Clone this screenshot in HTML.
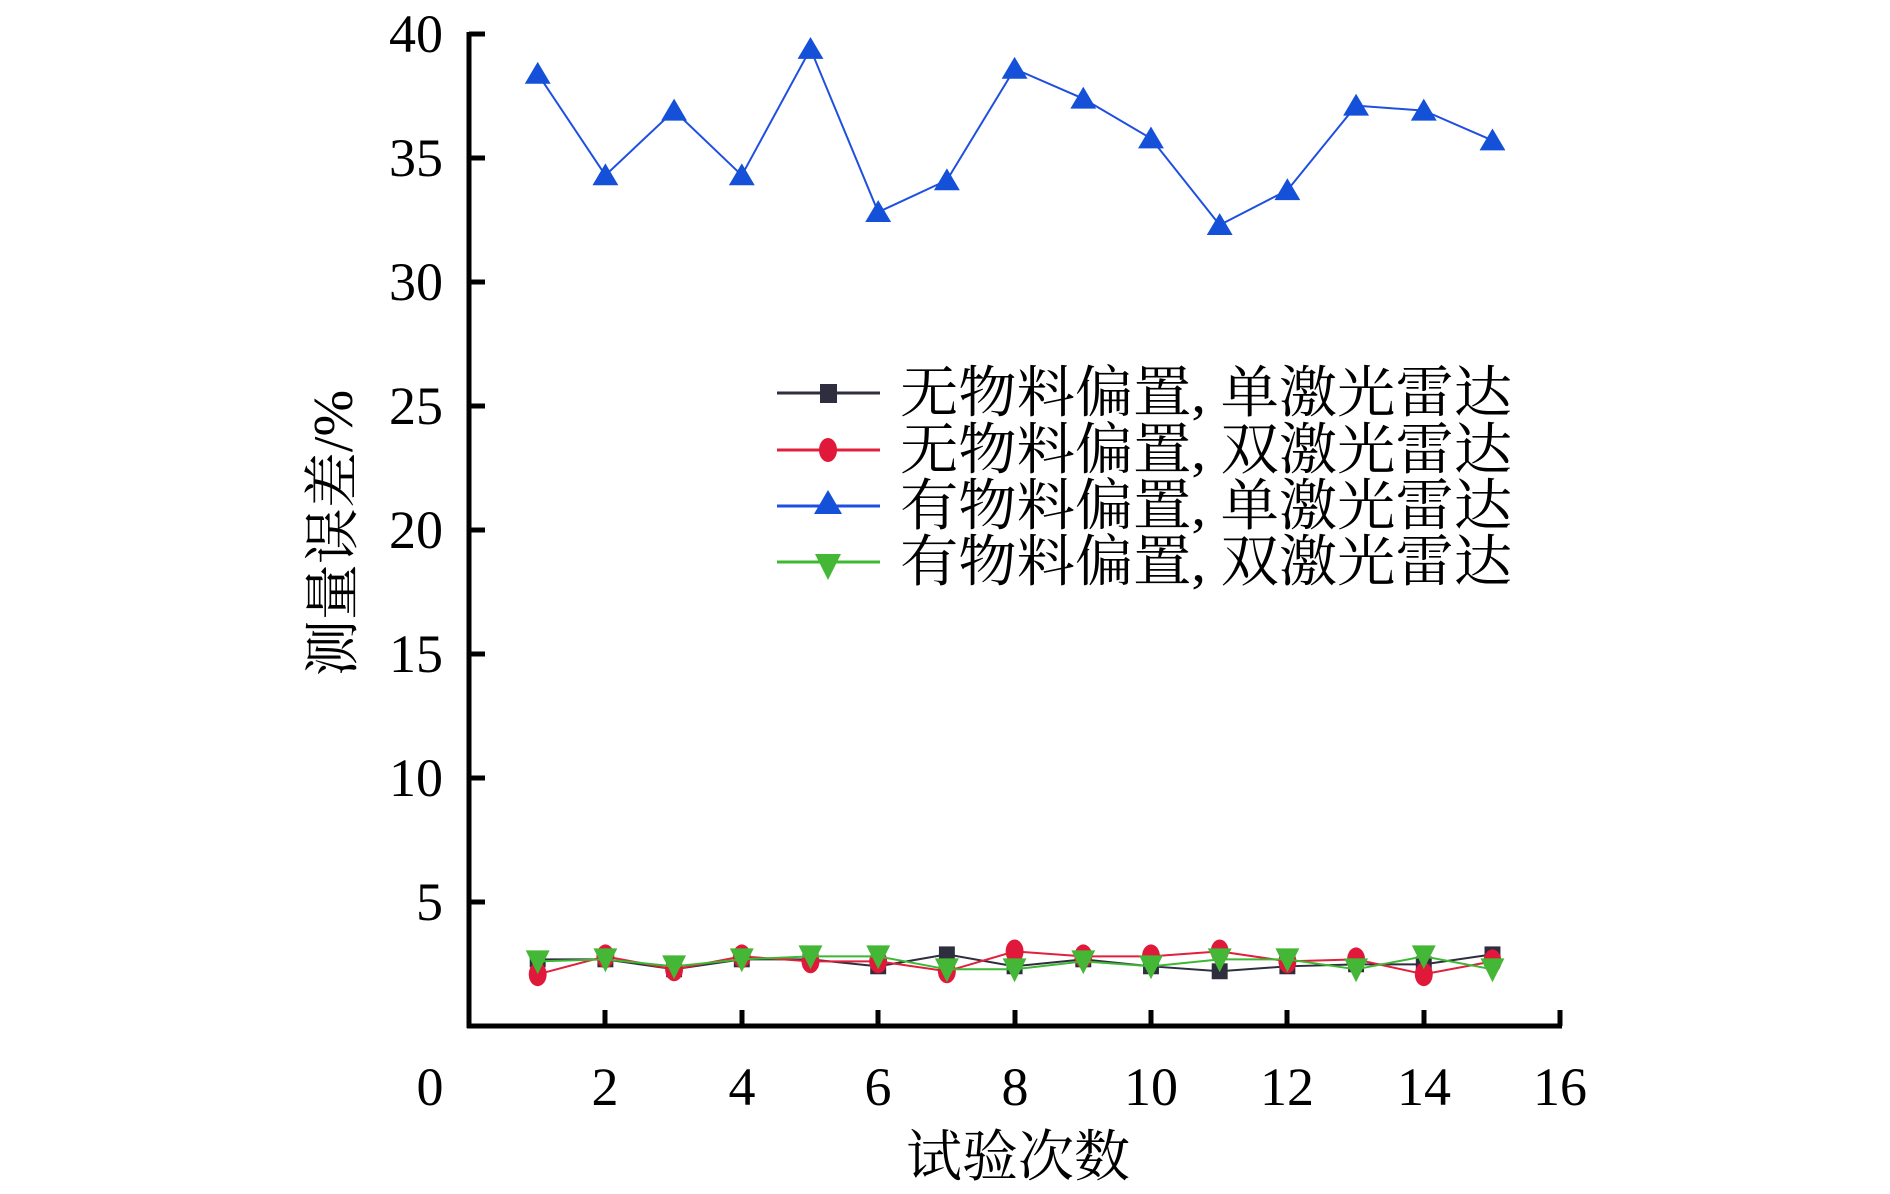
<!DOCTYPE html>
<html><head><meta charset="utf-8"><style>html,body{margin:0;padding:0;background:#fff}svg{display:block}</style></head>
<body>
<svg width="1890" height="1194" viewBox="0 0 1890 1194" xmlns="http://www.w3.org/2000/svg" font-family="'Liberation Serif','Noto Serif CJK SC',serif">
<g stroke="#000" stroke-width="5" fill="none">
<line x1="469" y1="32" x2="469" y2="1028"/>
<line x1="467" y1="1026" x2="1562" y2="1026"/>
</g>
<g stroke="#000" stroke-width="5">
<line x1="469" y1="34" x2="485" y2="34"/><line x1="469" y1="158" x2="485" y2="158"/><line x1="469" y1="282" x2="485" y2="282"/><line x1="469" y1="406" x2="485" y2="406"/><line x1="469" y1="530" x2="485" y2="530"/><line x1="469" y1="654" x2="485" y2="654"/><line x1="469" y1="778" x2="485" y2="778"/><line x1="469" y1="902" x2="485" y2="902"/>
<line x1="605" y1="1026" x2="605" y2="1010"/><line x1="742" y1="1026" x2="742" y2="1010"/><line x1="878" y1="1026" x2="878" y2="1010"/><line x1="1015" y1="1026" x2="1015" y2="1010"/><line x1="1151" y1="1026" x2="1151" y2="1010"/><line x1="1287" y1="1026" x2="1287" y2="1010"/><line x1="1424" y1="1026" x2="1424" y2="1010"/><line x1="1560" y1="1026" x2="1560" y2="1010"/>
</g>
<g font-size="54" text-anchor="end" fill="#000">
<text x="443" y="52">40</text><text x="443" y="176">35</text><text x="443" y="300">30</text><text x="443" y="424">25</text><text x="443" y="548">20</text><text x="443" y="672">15</text><text x="443" y="796">10</text><text x="443" y="920">5</text>
</g>
<g font-size="54" text-anchor="middle" fill="#000">
<text x="430" y="1105">0</text><text x="605" y="1105">2</text><text x="742" y="1105">4</text><text x="878" y="1105">6</text><text x="1015" y="1105">8</text><text x="1151" y="1105">10</text><text x="1287" y="1105">12</text><text x="1424" y="1105">14</text><text x="1560" y="1105">16</text>
</g>
<text x="1018" y="1176" font-size="56" text-anchor="middle">试验次数</text>
<text transform="translate(352,533) rotate(-90)" font-size="56" text-anchor="middle">测量误差/%</text>

<g transform="translate(469,34) scale(0.9956,0.995) translate(-469,-34)">
<!-- blue -->
<g transform="translate(0,-3)">
<polyline fill="none" stroke="#1f4fe0" stroke-width="2" points="538,77 606,179 675,114 743,179 812,52 880,216 949,184 1017,72 1086,102 1154,142 1223,229 1291,194 1360,109 1428,114 1497,144"/>
<g fill="#1450d8">
<path d="M538,65l13,22h-26z M606,167l13,22h-26z M675,102l13,22h-26z M743,167l13,22h-26z M812,40l13,22h-26z M880,204l13,22h-26z M949,172l13,22h-26z M1017,60l13,22h-26z M1086,90l13,22h-26z M1154,130l13,22h-26z M1223,217l13,22h-26z M1291,182l13,22h-26z M1360,97l13,22h-26z M1428,102l13,22h-26z M1497,132l13,22h-26z"/>
</g>
</g>
<!-- black -->
<polyline fill="none" stroke="#2e2e3e" stroke-width="2" points="538,964 606,964 675,974 743,964 812,964 880,971 949,959 1017,971 1086,964 1154,971 1223,976 1291,971 1360,969 1428,969 1497,959"/>
<g fill="#2e2e3e">
<rect x="530" y="956" width="16" height="16"/><rect x="598" y="956" width="16" height="16"/><rect x="667" y="966" width="16" height="16"/><rect x="735" y="956" width="16" height="16"/><rect x="804" y="956" width="16" height="16"/><rect x="872" y="963" width="16" height="16"/><rect x="941" y="951" width="16" height="16"/><rect x="1009" y="963" width="16" height="16"/><rect x="1078" y="956" width="16" height="16"/><rect x="1146" y="963" width="16" height="16"/><rect x="1215" y="968" width="16" height="16"/><rect x="1283" y="963" width="16" height="16"/><rect x="1352" y="961" width="16" height="16"/><rect x="1420" y="961" width="16" height="16"/><rect x="1489" y="951" width="16" height="16"/>
</g>
<!-- red -->
<polyline fill="none" stroke="#e0203c" stroke-width="2" points="538,979 606,961 675,974 743,961 812,966 880,966 949,976 1017,956 1086,961 1154,961 1223,956 1291,966 1360,964 1428,979 1497,966"/>
<g fill="#e0183a">
<ellipse cx="538" cy="979" rx="9" ry="12"/><ellipse cx="606" cy="961" rx="9" ry="12"/><ellipse cx="675" cy="974" rx="9" ry="12"/><ellipse cx="743" cy="961" rx="9" ry="12"/><ellipse cx="812" cy="966" rx="9" ry="12"/><ellipse cx="880" cy="966" rx="9" ry="12"/><ellipse cx="949" cy="976" rx="9" ry="12"/><ellipse cx="1017" cy="956" rx="9" ry="12"/><ellipse cx="1086" cy="961" rx="9" ry="12"/><ellipse cx="1154" cy="961" rx="9" ry="12"/><ellipse cx="1223" cy="956" rx="9" ry="12"/><ellipse cx="1291" cy="966" rx="9" ry="12"/><ellipse cx="1360" cy="964" rx="9" ry="12"/><ellipse cx="1428" cy="979" rx="9" ry="12"/><ellipse cx="1497" cy="966" rx="9" ry="12"/>
</g>
<!-- green -->
<polyline fill="none" stroke="#3cb832" stroke-width="2" points="538,966 606,964 675,971 743,964 812,961 880,961 949,974 1017,974 1086,966 1154,971 1223,964 1291,964 1360,974 1428,961 1497,974"/>
<g fill="#44b836">
<path d="M538,979l12,-24h-24z M606,977l12,-24h-24z M675,984l12,-24h-24z M743,977l12,-24h-24z M812,974l12,-24h-24z M880,974l12,-24h-24z M949,987l12,-24h-24z M1017,987l12,-24h-24z M1086,979l12,-24h-24z M1154,984l12,-24h-24z M1223,977l12,-24h-24z M1291,977l12,-24h-24z M1360,987l12,-24h-24z M1428,974l12,-24h-24z M1497,987l12,-24h-24z"/>
</g>
</g>

<!-- legend -->
<line x1="777" y1="393" x2="880" y2="393" stroke="#2e2e3e" stroke-width="3"/><rect x="820" y="384" width="17" height="19" fill="#2e2e3e"/>
<line x1="777" y1="450" x2="880" y2="450" stroke="#e0203c" stroke-width="3"/><ellipse cx="828" cy="450" rx="9" ry="12" fill="#e0183a"/>
<line x1="777" y1="506" x2="880" y2="506" stroke="#1f4fe0" stroke-width="3"/><path d="M828,490l14,24h-28z" fill="#1450d8"/>
<line x1="777" y1="562" x2="880" y2="562" stroke="#3cb832" stroke-width="3"/><path d="M828,580l13,-26h-26z" fill="#44b836"/>
<g font-size="56" fill="#000">
<text x="900" y="412" textLength="612" lengthAdjust="spacingAndGlyphs">无物料偏置, 单激光雷达</text>
<text x="900" y="469" textLength="612" lengthAdjust="spacingAndGlyphs">无物料偏置, 双激光雷达</text>
<text x="900" y="525" textLength="612" lengthAdjust="spacingAndGlyphs">有物料偏置, 单激光雷达</text>
<text x="900" y="581" textLength="612" lengthAdjust="spacingAndGlyphs">有物料偏置, 双激光雷达</text>
</g>
</svg>
</body></html>
